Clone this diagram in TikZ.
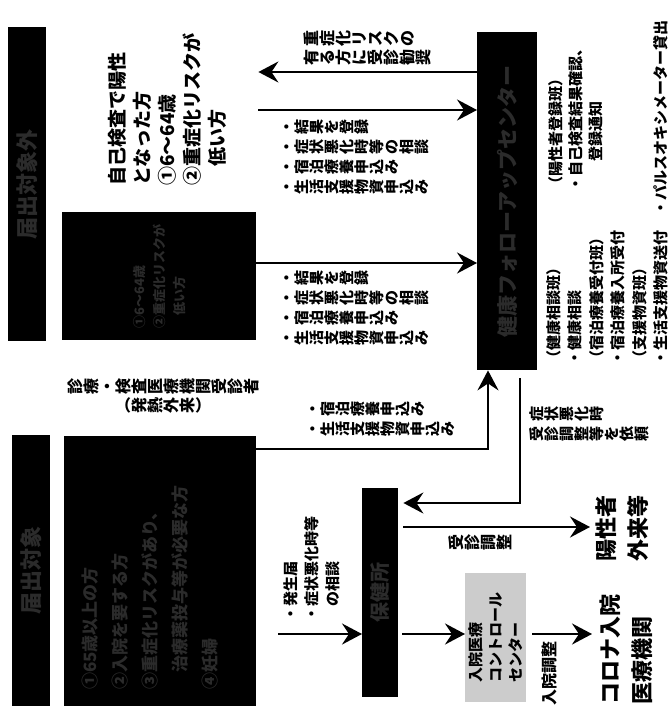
\documentclass[tikz,border=0pt]{standalone}
\usepackage{fontspec}
\setmainfont{Noto Sans CJK JP}
\usepackage{graphicx}
\usetikzlibrary{arrows.meta,calc}
\definecolor{faint}{gray}{0.17}
\makeatletter
% glyph-rotated text (vertical Japanese set sideways)
\newcommand\rg[1]{\rg@loop#1\@nil}
\def\rg@loop#1{\ifx\@nil#1\else\rg@one{#1}\expandafter\rg@loop\fi}
\def\rg@box#1{\hbox to 1em{\vrule height .88em depth .12em width 0pt\hss#1\hss}}
\def\rg@one#1{\ifx#1（\rg@box{#1}\else\ifx#1）\rg@box{#1}\else\rotatebox[origin=c]{90}{\rg@box{#1}}\fi\fi}
\makeatother
\newcommand\fs[2]{\fontsize{#1pt}{#2pt}\selectfont}
\begin{document}
\begin{tikzpicture}[x=1pt,y=-1pt,
  blk/.style={fill=black,draw=none,inner sep=0,anchor=north west},
  ghost/.style={draw=none,inner sep=0,anchor=north west},
  stip/.style={fill=black!20,draw=none,inner sep=0,anchor=north west},
  vtxt/.style={rotate=90,inner sep=0,align=left,font=\bfseries},
  htxt/.style={inner sep=0,align=left,font=\bfseries},
  intxt/.style={rotate=90,inner sep=0,align=left,text=faint,font=\bfseries},
  arr/.style={line width=2.6pt,-{Stealth[length=20pt,width=21pt,inset=7pt]}}]
\useasboundingbox (0,0) rectangle (669,719);
\fill[white] (0,0) rectangle (669,719);

% ---- boxes ----
\node[blk,minimum width=38pt,minimum height=314pt] (c1) at (8,27) {};
\node[ghost,minimum width=196pt,minimum height=178pt] (selfbox) at (62,27) {};
\node[blk,minimum width=194pt,minimum height=128pt] (box2) at (62,212) {};
\node[blk,minimum width=38pt,minimum height=271pt] (c3) at (12,435) {};
\node[blk,minimum width=192pt,minimum height=270pt] (box4) at (64,436) {};
\node[blk,minimum width=60pt,minimum height=338pt] (rc) at (477,32) {};
\node[blk,minimum width=36pt,minimum height=209pt] (box6) at (362,488) {};
\node[stip,minimum width=61pt,minimum height=129pt] (box7) at (465,573) {};

% ---- texts inside boxes ----
\node[intxt,font=\bfseries\fs{22}{26}] (t1) at (c1.center) {届出対象外};
\node[intxt,font=\bfseries\fs{13}{20}] (t2) at (box2.center) {①6～64歳\\②重症化リスクが\\　低い方};
\node[intxt,font=\bfseries\fs{22}{26}] (t3) at (c3.center) {届出対象};
\node[intxt,anchor=north west,font=\bfseries\fs{17}{30}] (t4) at (82,690)
  {①65歳以上の方\\②入院を要する方\\③重症化リスクがあり、\\　治療薬投与等が必要な方\\④妊婦};
\node[intxt,font=\bfseries\fs{21}{26}] (t5) at (rc.center) {健康フォローアップセンター};
\node[intxt,font=\bfseries\fs{20}{26}] (t6) at (box6.center) {保健所};
\node[vtxt,font=\bfseries\fs{15}{20}] (t7) at (box7.center) {入院医療\\コントロール\\センター};

% ---- free texts ----
\node[vtxt,anchor=north west,font=\bfseries\fs{19}{25}] (self) at (108,186)
  {自己検査で陽性\\となった方\\①6～64歳\\②重症化リスクが\\　低い方};
\node[htxt,align=center,font=\bfseries\fs{16}{19}] (capt) at (163,396)
  {\rg{診療・検査医療機関受診者}\\\rg{（発熱外来）}};
\node[vtxt,anchor=north west,font=\bfseries\fs{22}{32}] (gairai) at (595,562) {陽性者\\外来等};
\node[vtxt,anchor=north west,font=\bfseries\fs{22}{32}] (hosp) at (600,705) {コロナ入院\\医療機関};
\node[vtxt,anchor=north west,font=\bfseries\fs{15}{20}] (grp1) at (548,192)
  {（陽性者登録班）\\・自己検査結果確認、\\　　登録通知};
\node[vtxt,anchor=north west,font=\bfseries\fs{15}{21.5}] (grp2) at (546,366)
  {（健康相談班）\\・健康相談\\（宿泊療養受付班）\\・宿泊療養入所受付\\（支援物資班）\\・生活支援物資送付　・パルスオキシメーター貸出};

% ---- arrow labels ----
\node[htxt,anchor=north west,font=\bfseries\fs{16}{19}] (l1) at (303,30)
  {\rg{重症化リスクの}\\\rg{有る方に受診勧奨}};
\node[htxt,anchor=north west,font=\bfseries\fs{15}{20}] (l2) at (279,119)
  {\rg{・結果を登録}\\\rg{・症状悪化時等の相談}\\\rg{・宿泊療養申込み}\\\rg{・生活支援物資申込み}};
\node[htxt,anchor=north west,font=\bfseries\fs{15}{20}] (l3) at (279,270)
  {\rg{・結果を登録}\\\rg{・症状悪化時等の相談}\\\rg{・宿泊療養申込み}\\\rg{・生活支援物資申込み}};
\node[htxt,anchor=north west,font=\bfseries\fs{15}{20}] (l4) at (305,401)
  {\rg{・宿泊療養申込み}\\\rg{・生活支援物資申込み}};
\node[htxt,anchor=north west,font=\bfseries\fs{15}{20}] (l5) at (529,406)
  {\rg{症状悪化時}\\\rg{受診調整等を依頼}};
\node[htxt,anchor=west,font=\bfseries\fs{16}{19}] (l6) at (448,542) {\rg{受診調整}};
\node[vtxt,anchor=north west,font=\bfseries\fs{15}{21}] (l7) at (283,622)
  {・発生届\\・症状悪化時等\\　の相談};
\node[vtxt,anchor=north west,font=\bfseries\fs{16}{20}] (l8) at (542,706) {入院調整};

% ---- connectors ----
\coordinate (yA) at (0,72);
\coordinate (yB) at (0,110);
\coordinate (yC) at (0,263);
\coordinate (yD) at (0,449);
\coordinate (yE) at (0,503);
\coordinate (yF) at (0,527);
\coordinate (yG) at (0,634);
\draw[arr] (rc.west |- yA) -- (selfbox.east |- yA);
\draw[arr] (selfbox.east |- yB) -- (rc.west |- yB);
\draw[arr] (box2.east |- yC) -- (rc.west |- yC);
\draw[arr] (box4.east |- yD) -| ([xshift=11pt]rc.south west);
\draw[arr,shorten <=8pt,shorten >=5pt] ([xshift=43pt]rc.south west) |- (box6.east |- yE);
\draw[arr,shorten <=5pt] (box6.east |- yF) -- ([xshift=-5pt]gairai.north |- yF);
\draw[arr,shorten <=22pt] (box4.east |- yG) -- (box6.west |- yG);
\draw[arr,shorten <=4pt] (box6.east |- yG) -- (box7.west |- yG);
\draw[arr,shorten <=6pt] (box7.east |- yG) -- ([xshift=-8pt]hosp.north |- yG);
\end{tikzpicture}
\end{document}
